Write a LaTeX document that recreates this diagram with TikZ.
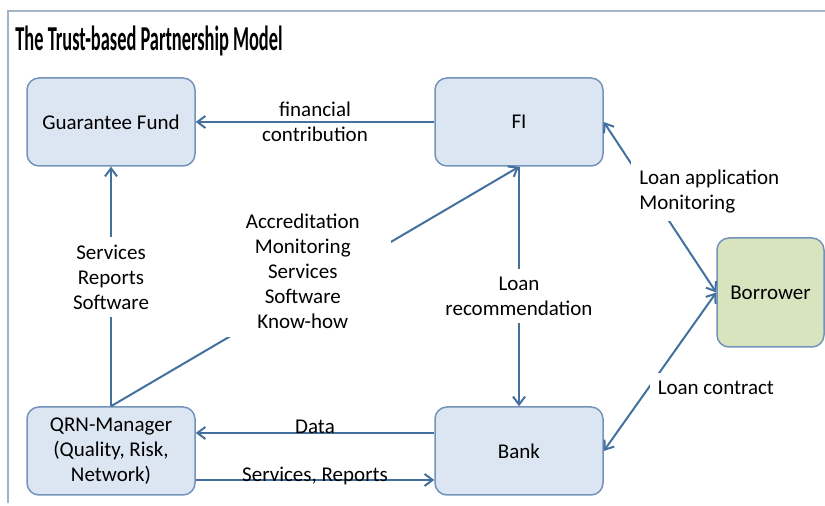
\documentclass[tikz,border=0pt]{standalone}
\usepackage{fontspec}
\setmainfont{Carlito}
\newfontfamily\titlefont[FakeStretch=0.525]{Carlito}
\usetikzlibrary{arrows.meta}

\definecolor{boxfill}{HTML}{DCE6F2}
\definecolor{boxline}{HTML}{7393BA}
\definecolor{greenfill}{HTML}{D7E4BD}
\definecolor{arrowcol}{HTML}{43709E}
\definecolor{framecol}{HTML}{A5B4C4}

\begin{document}
\begin{tikzpicture}[x=0.5pt, y=-0.5pt,
    font=\fontsize{10.5pt}{12.5pt}\selectfont,
    box/.style={draw=boxline, line width=0.75pt, fill=boxfill, rounded corners=6pt,
        minimum width=84pt, minimum height=44pt, align=center, inner sep=2pt},
    link/.style={draw=arrowcol, line width=1pt, -{Straight Barb[length=4pt,width=6pt]}},
    both/.style={link, {Straight Barb[length=4pt,width=6pt]}-{Straight Barb[length=4pt,width=6pt]}},
    lbl/.style={fill=white, align=center, inner sep=4pt}]

    \useasboundingbox (0,0) rectangle (825,506);

    % 枠とタイトル
    \draw [framecol, line width=1pt] (8,503) -- (8,11) -- (825,11);
    \node [anchor=base west, inner sep=0pt, font=\titlefont\bfseries\fontsize{17.5pt}{20pt}\selectfont]
        (title) at (15,51) {The Trust-based Partnership Model};

    % ノードの描画
    \node [box] (gf) at (111,122) {Guarantee Fund};
    \node [box] (fi) at (519,122) {FI};
    \node [box, fill=greenfill, minimum width=53.5pt, minimum height=54.5pt] (bor) at (770.5,292.5) {Borrower};
    \node [box] (qrn) at (111,451) {QRN-Manager\\(Quality, Risk,\\Network)};
    \node [box] (bank) at (519,451) {Bank};

    % 矢印の描画
    \draw [link] (fi) -- (gf) node [midway, align=center] {financial\\contribution};
    \draw [link] (qrn) -- (gf) node [pos=0.54, lbl] {Services\\Reports\\Software};
    \draw [link] (qrn.north) -- (fi.south)
        node [pos=0.47, lbl, minimum width=88pt, yshift=11pt] {Accreditation\\Monitoring\\Services\\Software\\Know-how};
    \draw [link] (fi) -- (bank) node [pos=0.54, lbl] {Loan\\recommendation};

    \draw [both] (fi.east) -- (bor.west)
        node [pos=0.405, anchor=west, xshift=-9.5pt, lbl, align=left] {Loan application\\Monitoring};
    \draw [both] (bank.east) -- (bor.west)
        node [pos=0.4, anchor=west, lbl] {Loan contract};

    \draw [link] ([yshift=9pt]bank.west) -- ([yshift=9pt]qrn.east)
        node [midway, anchor=base, yshift=-0.5pt] {Data};
    \draw [link] ([yshift=-14.5pt]qrn.east) -- ([yshift=-14.5pt]bank.west)
        node [midway, anchor=base, yshift=-1pt] {Services, Reports};

\end{tikzpicture}
\end{document}
